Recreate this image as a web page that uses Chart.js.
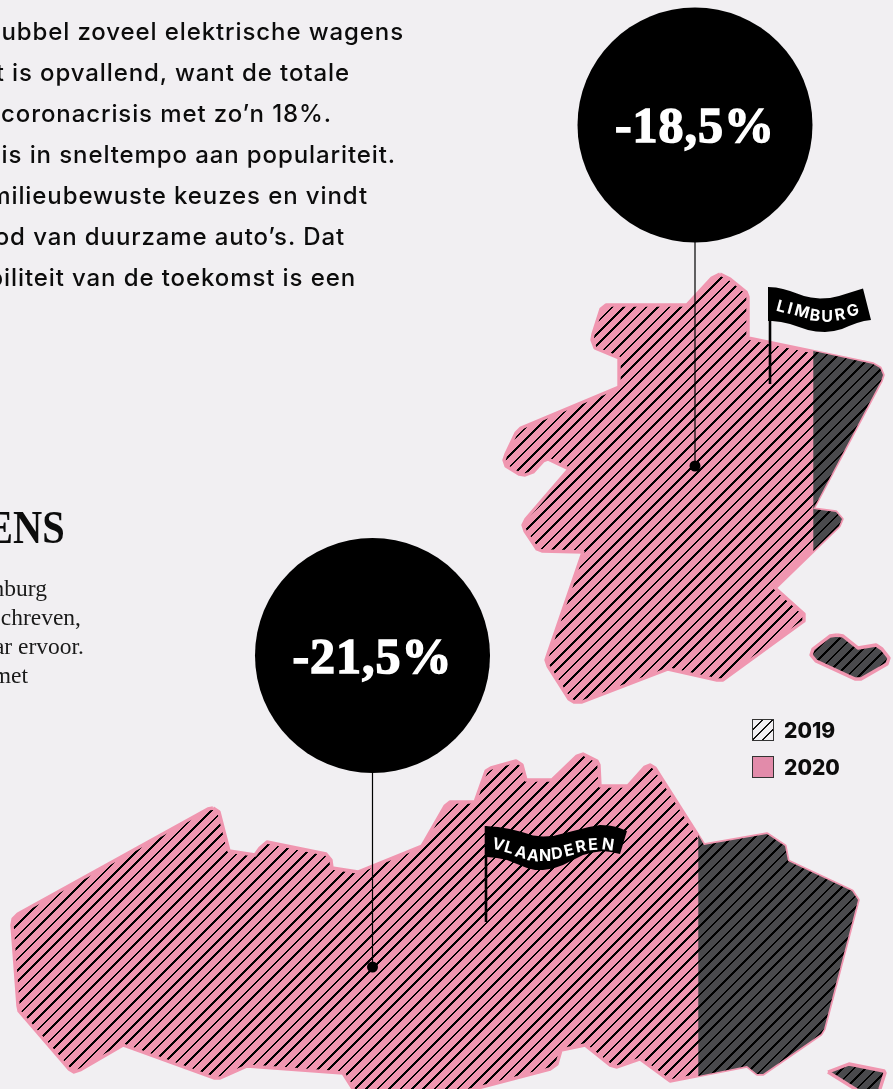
<!DOCTYPE html>
<html>
<head>
<meta charset="utf-8">
<script src="https://cdn.jsdelivr.net/npm/chart.js@4"></script>
<style>
html, body { margin: 0; padding: 0; background: #f1eff2; }
#page { position: relative; width: 893px; height: 1089px; overflow: hidden; background: #f1eff2; }
canvas { position: absolute; left: 0; top: 0; }
.line { position: absolute; white-space: nowrap; text-align: right; color: #0c0c0c; }
.intro { font: 500 24px Inter, sans-serif; letter-spacing: 0.9px; line-height: 30px; }
.kop { font: 700 47px "Liberation Serif", serif; line-height: 50px; transform: scaleX(0.86); transform-origin: right center; }
.sub { font: 400 23.5px "Liberation Serif", serif; line-height: 28px; color: #1a1a1a; }
.swatch { position: absolute; left: 752px; width: 20px; height: 20px; border: 1px solid #333; }
.year { position: absolute; left: 784px; font: 800 21px Inter, sans-serif; line-height: 24px; color: #0c0c0c; }
</style>
</head>
<body>
<div id="page">
<canvas id="mapChart" width="893" height="1089"></canvas>
</div>
<script>
// tekst uit de afbeelding, links afgesneden
const introLines = ["dubbel zoveel elektrische wagens", "Dat is opvallend, want de totale", "coronacrisis met zo’n 18%.", "is in sneltempo aan populariteit.", "milieubewuste keuzes en vindt", "bod van duurzame auto’s. Dat", "biliteit van de toekomst is een"];
const introEnds = [404, 350, 332, 396, 368, 345, 356];
const introY = [32, 73, 114, 155, 196, 237, 278];
const subLines = ["Limburg", "geschreven,", "jaar ervoor.", "met"];
const subEnds = [47, 81, 84, 28];
const subY = [588, 617, 646, 675];

const provinces = ["LIMBURG", "VLAANDEREN"];
const declines = ["-18,5%", "-21,5%"];
const years = ["2019", "2020"];

const bubbleX = [695, 372.5];
const bubbleY = [125, 655.5];
const dotY = [466, 967];

// kaartcontouren in beeldeenheden
const limburg = [[720,274],[730,279],[746,292],[748,297],[748,338],[873,364],[880,368],[883,375],[881,381],[813,509],[836,512],[842,519],[839,526],[775,588],[804,614],[804,621],[723,680],[717,680],[668,669],[582,702],[574,702],[569,699],[548,666],[546,660],[548,654],[583,552],[542,551],[537,549],[525,531],[523,525],[526,519],[569,469],[548,459],[543,461],[533,472],[525,475],[519,474],[506,466],[504,460],[506,454],[516,433],[521,428],[619,387],[619,358],[595,348],[592,340],[593,334],[601,309],[606,305],[687,305],[712,278]];
const limburgDark = [[813.3,351],[873,364],[880,368],[883,375],[881,381],[813.3,509],[836,512],[842,519],[839,526],[813.3,551]];
const voeren = [[837,635],[843,636],[858,648],[876,645],[882,649],[889,658],[887,664],[861,679],[855,679],[816,661],[811,655],[813,649],[830,636]];
const vlaanderen = [[213,808],[219,812],[229,851],[255,855],[260,848],[267,842],[326,854],[331,860],[332,868],[358,872],[422,846],[445,806],[450,802],[475,802],[486,771],[491,768],[516,761],[522,765],[526,780],[552,780],[577,756],[583,754],[597,761],[599,765],[600,786],[628,786],[645,767],[650,765],[655,768],[704,845],[767,834],[785,846],[788,861],[852,891],[858,900],[824,1029],[821,1034],[763,1074],[757,1074],[747,1066],[670,1081],[640,1059],[617,1067],[610,1065],[585,1045],[561,1050],[557,1064],[550,1069],[463,1092],[355,1092],[343,1073],[247,1066],[220,1078],[214,1078],[123,1045],[80,1070],[74,1072],[69,1069],[19,1011],[18,1006],[12,925],[13,919],[18,914],[208,809]];
const vlaanderenDark = [[698.3,835],[704,845],[767,834],[785,846],[788,861],[852,891],[858,900],[824,1029],[821,1034],[763,1074],[757,1074],[747,1066],[698.3,1076]];
const stukje = [[828,1072],[849,1064],[884,1071],[885,1073],[879,1092],[860,1092]];

const flagLimburg = [[768,287],[776,287.5],[783,289],[790,291],[797,293.5],[804,296],[811,297.5],[820,298.5],[830,298],[839,296],[847,293.5],[855,291],[863,288.5],[871,320],[864,321],[857,323],[849,326],[842,329],[834,331],[825,332],[816,331.5],[808,330],[799,327],[790,324],[781,322],[772,321],[768,321]];
const flagVlaanderen = [[485,826],[498,827],[510,829],[522,832],[533,835.5],[543,836.5],[553,836],[565,833],[577,830],[589,827],[600,825],[609,825.5],[617,827],[627,831],[620,854],[611,852],[603,851],[593,852.5],[583,855],[573,860],[563,865],[553,868.5],[543,870],[535,870],[527,868],[517,864],[507,860],[497,858],[487,857]];
const poleLimburg = [[770,288],[770,384]];
const poleVlaanderen = [[486,826],[486,922]];

// positie en draaiing per letter op de golvende vlag
const lettersLimburg = [[781,307,15],[790,309,15],[802,312,15],[815,316,8],[827,317,0],[840,315,-10],[853,311,-16]];
const lettersVlaanderen = [[498,845,16],[509,848,16],[521,853,15],[533,856,8],[545,856,0],[557,854,-8],[569,851,-14],[581,847,-12],[593,845,-4],[608,845,8]];

const pink = "#f096b0";
const dark = "#4a4a4d";

function toPoints(list) {
    return list.map(p => ({x: p[0], y: p[1]}));
}
function closed(list) {
    return toPoints(list.concat([list[0]]));
}

// harde pixellijnen onder 45 graden, zoals in het origineel
function hatch(background) {
    const step = 11.4;
    const size = 57;
    const tile = document.createElement("canvas");
    tile.width = size;
    tile.height = size;
    const c = tile.getContext("2d");
    c.fillStyle = background;
    c.fillRect(0, 0, size, size);
    c.fillStyle = "#000";
    for (let y = 0; y < size; y++) {
        for (let x = 0; x < size; x++) {
            if ((x + y + size - 5) % step < 2.6) c.fillRect(x, y, 1, 1);
        }
    }
    return c.createPattern(tile, "repeat");
}

const pinkHatch = hatch(pink);
const darkHatch = hatch(dark);

function shape(list, fillStyle, border) {
    return {
        data: closed(list),
        showLine: true,
        fill: "shape",
        backgroundColor: fillStyle,
        borderColor: border || "transparent",
        borderWidth: border ? 3.4 : 0,
        borderJoinStyle: "round",
        pointRadius: 0,
        tension: 0
    };
}
function stick(list, width) {
    return {
        data: toPoints(list),
        showLine: true,
        fill: false,
        borderColor: "#000",
        borderWidth: width,
        pointRadius: 0
    };
}
function dots(ys, radius) {
    return {
        data: ys.map((y, i) => ({x: bubbleX[i], y: y})),
        showLine: false,
        pointRadius: radius,
        pointBackgroundColor: "#000",
        pointBorderWidth: 0
    };
}

const labelsPlugin = {
    id: "labelsPlugin",
    afterDatasetsDraw(chart) {
        const ctx = chart.ctx;
        const xs = chart.scales.x;
        const ys = chart.scales.y;
        ctx.save();
        ctx.textAlign = "center";
        ctx.textBaseline = "alphabetic";

        ctx.font = '700 50px "Liberation Serif", serif';
        ctx.letterSpacing = "1px";
        ctx.fillStyle = "#fff";
        ctx.strokeStyle = "#fff";
        ctx.lineWidth = 1.5;
        declines.forEach((text, i) => {
            const px = xs.getPixelForValue(bubbleX[i]);
            const py = ys.getPixelForValue(bubbleY[i] + 17);
            ctx.strokeText(text, px, py);
            ctx.fillText(text, px, py);
        });

        ctx.letterSpacing = "0px";
        ctx.textBaseline = "middle";
        ctx.font = "700 16px Inter, sans-serif";
        [lettersLimburg, lettersVlaanderen].forEach((letters, i) => {
            letters.forEach((pos, j) => {
                ctx.save();
                ctx.translate(xs.getPixelForValue(pos[0]), ys.getPixelForValue(pos[1]));
                ctx.rotate(pos[2] * Math.PI / 180);
                ctx.fillText(provinces[i][j], 0, 0);
                ctx.restore();
            });
        });
        ctx.restore();
    }
};

var mapChart = new Chart(document.getElementById("mapChart"), {
    type: "scatter",
    data: {
        datasets: [
            dots(bubbleY, 117.5),
            dots(dotY, 5.5),
            stick([[bubbleX[0], bubbleY[0]], [bubbleX[0], dotY[0]]], 1.2),
            stick([[bubbleX[1], bubbleY[1]], [bubbleX[1], dotY[1]]], 1.2),
            stick(poleLimburg, 2.6),
            stick(poleVlaanderen, 2.6),
            shape(flagLimburg, "#000"),
            shape(flagVlaanderen, "#000"),
            shape(limburgDark, darkHatch),
            shape(vlaanderenDark, darkHatch),
            shape(limburg, pinkHatch, pink),
            shape(vlaanderen, pinkHatch, pink),
            shape(voeren, darkHatch, pink),
            shape(stukje, darkHatch, pink)
        ]
    },
    options: {
        responsive: false,
        animation: false,
        events: [],
        layout: {padding: 0, autoPadding: false},
        scales: {
            x: {type: "linear", min: 0, max: 893, display: false},
            y: {type: "linear", min: 0, max: 1089, reverse: true, display: false}
        },
        plugins: {legend: {display: false}, tooltip: {enabled: false}}
    },
    plugins: [labelsPlugin]
});

// tekst rond de grafiek
const page = document.getElementById("page");
function addLine(text, cls, end, mid, height) {
    const el = document.createElement("div");
    el.className = "line " + cls;
    el.textContent = text;
    el.style.right = (893 - end) + "px";
    el.style.top = (mid - height / 2) + "px";
    page.appendChild(el);
}
introLines.forEach((t, i) => addLine(t, "intro", introEnds[i], introY[i], 30));
subLines.forEach((t, i) => addLine(t, "sub", subEnds[i], subY[i], 28));
addLine("WAGENS", "kop", 65, 527, 50);

years.forEach((year, i) => {
    const top = 719 + i * 37;
    const box = document.createElement("div");
    box.className = "swatch";
    box.style.top = top + "px";
    box.style.background = i == 0
        ? "repeating-linear-gradient(135deg, transparent 0, transparent 6px, #111 6px, #111 7.2px)"
        : "#e28baa";
    page.appendChild(box);
    const label = document.createElement("div");
    label.className = "year";
    label.textContent = year;
    label.style.top = (top - 0.5) + "px";
    page.appendChild(label);
});
</script>
</body>
</html>
